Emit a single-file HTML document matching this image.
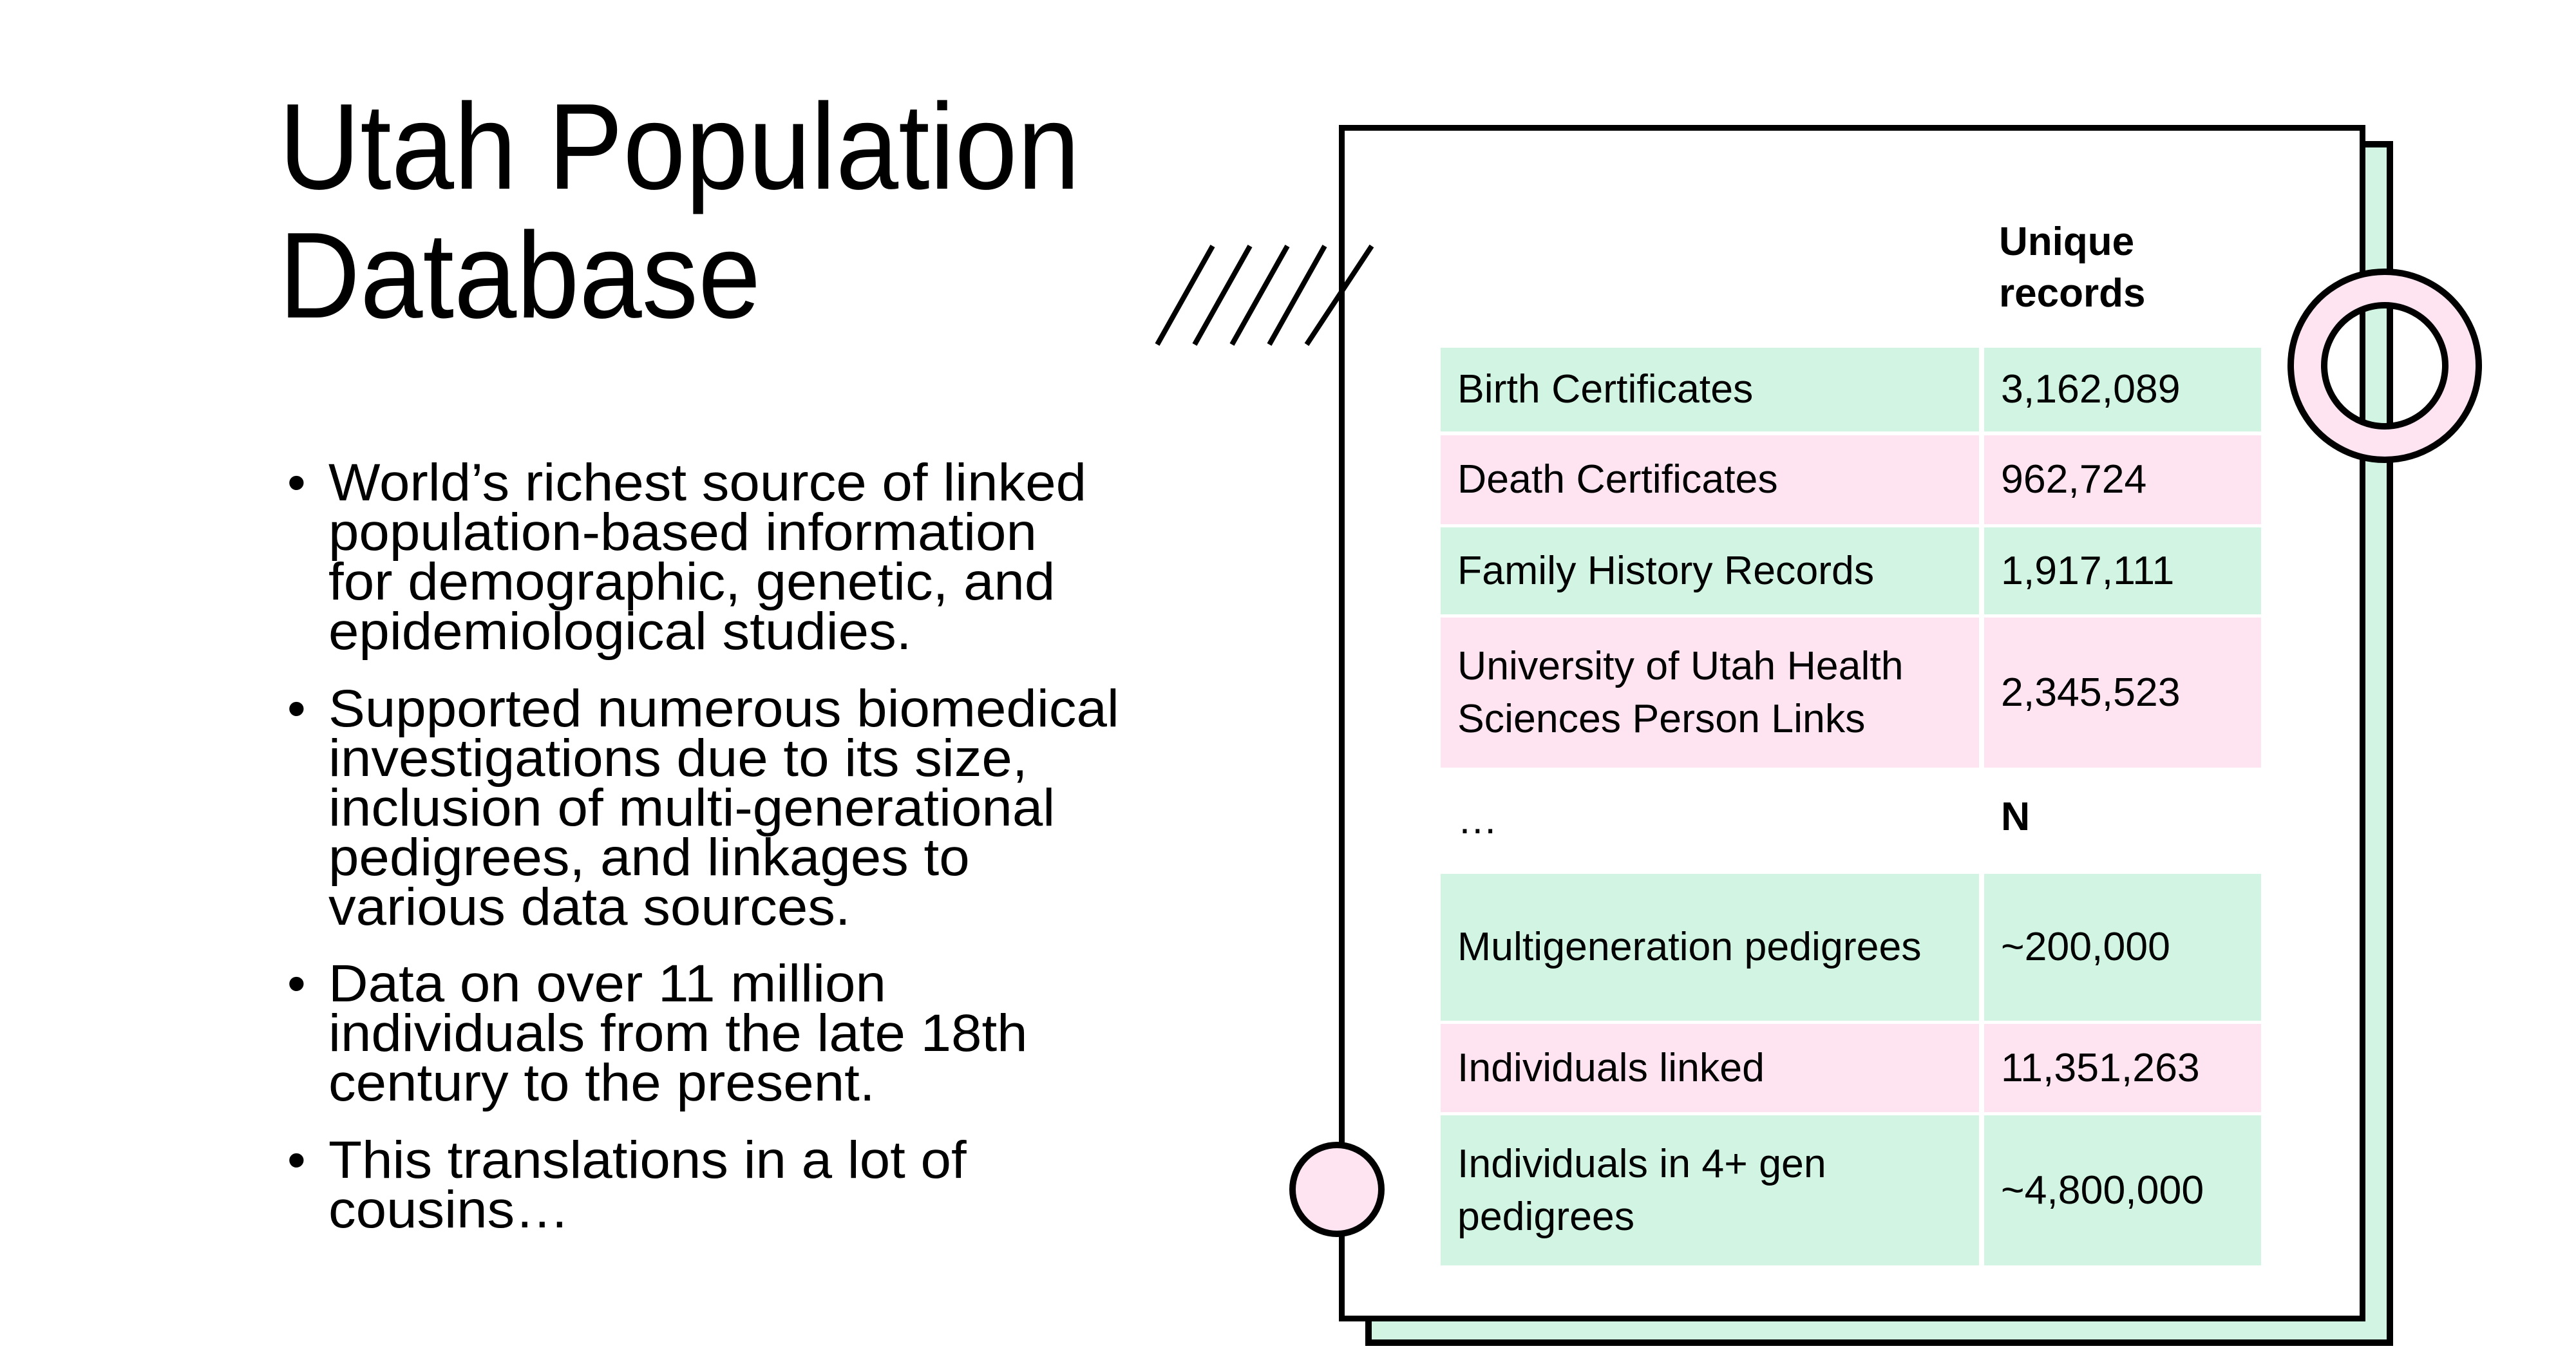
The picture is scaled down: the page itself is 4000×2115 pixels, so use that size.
<!DOCTYPE html>
<html><head><meta charset="utf-8">
<style>
body{margin:0;width:4000px;height:2115px;background:#fff;position:relative;overflow:hidden;font-family:"Liberation Sans",sans-serif;color:#000}
.a{position:absolute}
.sx{display:inline-block;transform:scaleX(1.04);transform-origin:left center;white-space:nowrap}
.title{left:433px;font-size:190px;line-height:200px}
.title .sx{transform:scaleX(.92)}
.bl{left:446px;width:1500px;font-size:82px;line-height:77px}
.bl .dot{position:absolute;left:0;top:0}
.bl .tx{position:absolute;left:64px;top:0}
.cell{position:absolute;display:flex;align-items:center;font-size:62px;line-height:82px;box-sizing:border-box;padding-left:26px}
.cell .sx{transform:scaleX(1.01)}
.g{background:#d1f5e2}.p{background:#fde4f0}
</style></head><body>
<div class="a title" style="top:128px"><span class="sx">Utah Population</span><br><span class="sx">Database</span></div>

<div class="a bl" style="top:711px"><span class="dot">•</span><span class="tx"><span class="sx">World’s richest source of linked</span><br><span class="sx">population-based information</span><br><span class="sx">for demographic, genetic, and</span><br><span class="sx">epidemiological studies.</span></span></div>
<div class="a bl" style="top:1062px"><span class="dot">•</span><span class="tx"><span class="sx">Supported numerous biomedical</span><br><span class="sx">investigations due to its size,</span><br><span class="sx">inclusion of multi-generational</span><br><span class="sx">pedigrees, and linkages to</span><br><span class="sx">various data sources.</span></span></div>
<div class="a bl" style="top:1489px"><span class="dot">•</span><span class="tx"><span class="sx">Data on over 11 million</span><br><span class="sx">individuals from the late 18th</span><br><span class="sx">century to the present.</span></span></div>
<div class="a bl" style="top:1763px"><span class="dot">•</span><span class="tx"><span class="sx">This translations in a lot of</span><br><span class="sx">cousins…</span></span></div>

<div class="a" style="left:2120px;top:219px;width:1596px;height:1871px;box-sizing:border-box;background:#d1f5e2;border:10px solid #000"></div>
<div class="a" style="left:2079px;top:194px;width:1594px;height:1858px;box-sizing:border-box;background:#fff;border:9px solid #000"></div>

<svg class="a" style="left:0;top:0" width="4000" height="2115">
<g stroke="#000" stroke-width="8">
<line x1="1797" y1="535" x2="1883" y2="382"/><line x1="1855" y1="535" x2="1941" y2="382"/><line x1="1913" y1="535" x2="1999" y2="382"/><line x1="1971" y1="535" x2="2057" y2="382"/><line x1="2029" y1="535" x2="2130" y2="382"/>
</g>
<path d="M3703 422a146 146 0 1 0 0.01 0zM3703 474a94 94 0 1 1 -0.01 0z" fill="#fde4f0" fill-rule="evenodd" stroke="#000" stroke-width="10"/>
<circle cx="2076" cy="1847" r="69" fill="#fde4f0" stroke="#000" stroke-width="10"/>
</svg>

<div class="a" style="left:3104px;top:336px;font-size:62px;line-height:80px;font-weight:bold"><span class="sx" style="transform:none">Unique</span><br><span class="sx" style="transform:none">records</span></div>

<div class="cell g" style="left:2237px;top:540px;width:836px;height:130px"><span class="sx">Birth Certificates</span></div>
<div class="cell g" style="left:3081px;top:540px;width:430px;height:130px"><span class="sx">3,162,089</span></div>
<div class="cell p" style="left:2237px;top:676px;width:836px;height:138px"><span class="sx">Death Certificates</span></div>
<div class="cell p" style="left:3081px;top:676px;width:430px;height:138px"><span class="sx">962,724</span></div>
<div class="cell g" style="left:2237px;top:819px;width:836px;height:135px"><span class="sx">Family History Records</span></div>
<div class="cell g" style="left:3081px;top:819px;width:430px;height:135px"><span class="sx">1,917,111</span></div>
<div class="cell p" style="left:2237px;top:959px;width:836px;height:233px"><span class="sx">University of Utah Health<br>Sciences Person Links</span></div>
<div class="cell p" style="left:3081px;top:959px;width:430px;height:233px"><span class="sx">2,345,523</span></div>
<div class="cell" style="left:2237px;top:1210px;width:836px;height:128px"><span class="sx">…</span></div>
<div class="cell" style="left:3081px;top:1205px;width:430px;height:128px;font-weight:bold"><span class="sx">N</span></div>
<div class="cell g" style="left:2237px;top:1357px;width:836px;height:228px"><span class="sx">Multigeneration pedigrees</span></div>
<div class="cell g" style="left:3081px;top:1357px;width:430px;height:228px"><span class="sx">~200,000</span></div>
<div class="cell p" style="left:2237px;top:1590px;width:836px;height:137px"><span class="sx">Individuals linked</span></div>
<div class="cell p" style="left:3081px;top:1590px;width:430px;height:137px"><span class="sx">11,351,263</span></div>
<div class="cell g" style="left:2237px;top:1732px;width:836px;height:233px"><span class="sx">Individuals in 4+ gen<br>pedigrees</span></div>
<div class="cell g" style="left:3081px;top:1732px;width:430px;height:233px"><span class="sx">~4,800,000</span></div>
</body></html>
